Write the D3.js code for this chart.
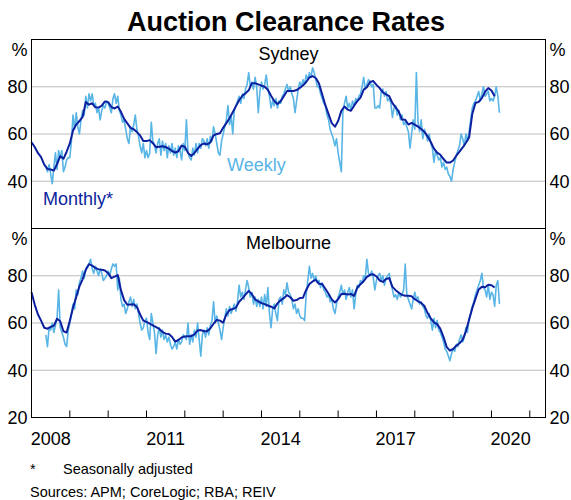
<!DOCTYPE html>
<html>
<head>
<meta charset="utf-8">
<script src="https://cdn.jsdelivr.net/npm/d3@7"></script>
<style>
  body { margin: 0; background: #fff; }
  text { font-family: "Liberation Sans", Arial, sans-serif; }
</style>
</head>
<body>
<svg width="571" height="500"></svg>
<script>
// monthly series start Jan 2008, one value a month
var monthlyStart = 2008;
var weeklyStart = 2008 + 4.5 / 12;

var sydneyMonthly = [
  56.5,54.5,52,50.2,47,45.2,45,44.5,47.3,50.6,49.5,52.5,
  56,61.5,64,65.5,67.2,73.5,72.4,73,71.3,71.2,72,73.8,
  73.5,71.4,70.8,71.6,69.4,66.4,64.5,62.6,62,60.8,59.4,57,
  57,57.4,56.1,54.4,54.6,54.8,54.5,53.8,52.8,52.1,52.7,55.1,
  54.6,52,50.7,52,53.7,55.3,56,55.6,56.4,59.4,60,60.3,
  62.6,64.6,66.7,69.2,71.8,74.3,76.2,77.2,78.5,81.5,81.5,81,
  80.5,80,78.7,76.2,74,72.7,73.9,76,78.2,78.2,78.2,78.6,
  79.5,80.6,82,83.9,84.5,83.7,81.4,76.8,72.2,68.4,64.6,63.1,
  65.5,69.8,71.6,70.3,69.8,72,73.9,75.4,78.8,79.8,82,82.4,
  80.8,79.4,77.6,76.8,76,73.1,71.3,69.4,66.1,66,64,64.7,
  64,63.1,62.1,60.9,59,56.6,53.8,52.1,51.2,49.4,47.9,47.9,
  48.8,50.8,52.5,54.3,56.3,58.5,68.5,73.1,73.6,75.2,77.9,79.4,
  78.4,76
];

var melbourneMonthly = [
  73,67.8,63.7,61,58,57.6,58.4,58.8,61.8,60.7,56.5,56,
  61,66.5,71,75.5,78.5,82.5,84.9,84.3,83.3,82.7,82.5,82.2,
  81.1,79,79.6,80.3,73.9,69.7,67.7,67.8,67.9,66.8,63.6,61,
  60.5,59.7,59,58.3,57.5,56.2,55.5,55.3,54.1,52.1,52.8,53.9,
  54.3,54.4,54.4,55.2,56.8,57,56.5,56.5,57.8,59.7,61.3,61,
  60.2,63.6,65.5,65.9,66.5,69,70.4,72,73.6,72.2,70,69.2,
  68.4,68,67.4,66.9,66.2,68.3,69.6,70.5,71.8,70.9,69.4,69.7,
  70.6,70.7,74,76.5,77.6,78.3,76.6,76.5,74.5,72.4,70,68.7,
  70.1,72.3,72.4,72.1,72.3,71.5,75,76.4,77.7,79.5,80.4,80.6,
  79.7,78,77.4,78.6,79,75.3,73.9,72.8,71.9,71.5,71.5,71.3,
  70.1,69.2,68.5,67.2,64.2,62,60.3,59.5,57.5,54,49.8,48.3,
  49,50.4,51.4,53,56.5,61.4,66.3,70.3,74.2,75.3,75.1,76.2,
  76,75
];

var sydneyWeekly = [
  46,
  44,47, 43,39, 46,52, 45,53, 50,53, 44,46, 49,50,
  50,57, 68,62, 69,63, 60,66, 70,68, 76,71, 77,74, 77,72, 73,69, 71,66, 70,72, 71,74,
  73,71, 69,75, 77,73, 76,70, 68,65, 66,62, 58,56, 63,61, 64,68, 62,59, 55,52, 56,50,
  53,50, 52,65, 57,55, 52,56, 58,51, 57,53, 56,50, 55,52, 56,51, 54,50, 55,53, 49,56,
  53,66, 52,50, 49,54, 51,56, 52,56, 54,58, 57,55, 58,54, 59,57, 63,60, 56,52, 51,57,
  60,63, 66,72, 64,68, 60,70, 72,74, 76,73, 77,75, 79,81, 86,80, 82,79, 84,80, 69,78,
  82,79, 81,85, 79,76, 71,74, 72,75, 71,74, 73,76, 77,79, 81,78, 80,77, 75,69, 74,79,
  82,80, 83,81, 85,83, 86,84, 88,86, 83,80, 80,77, 75,73, 72,68, 66,62, 60,58, 55,58,
  52,48, 44,70, 73,76, 71,73, 70,74, 72,75, 74,76, 77,80, 84,79, 81,83, 82,80, 81,71,
  71,72, 71,78, 79,76, 78,74, 75,73, 67,71, 72,68, 70,66, 68,64, 65,63, 61,54, 60,66,
  62,86, 65,61, 66,58, 62,60, 57,60, 56,54, 48,53, 51,49, 50,46, 48,45, 46,43, 42,40,
  45,48, 51,53, 55,60, 58,55, 60,57, 61,66, 71,73, 74,76, 78,74, 77,80, 76,77, 78,74,
  75,74, 76,80, 76,69
];

var melbourneWeekly = [
  55,
  50,58, 57,60, 56,59, 62,74, 58,56, 54,51, 50,57,
  60,64, 68,66, 74,72, 77,79, 82,79, 83,84, 85,87, 83,81, 84,82, 80,83, 81,78, 79,80,
  82,80, 83,85, 84,85, 74,79, 70,67, 68,64, 66,69, 71,67, 70,66, 68,64, 60,57, 58,61,
  62,56, 53,64, 60,56, 47,55, 58,54, 57,53, 55,52, 54,51, 49,50, 52,49, 53,51, 52,55,
  54,53, 60,51, 55,52, 57,54, 60,53, 46,55, 57,54, 58,55, 59,61, 69,60, 63,60, 57,53,
  58,62, 66,63, 67,64, 66,68, 65,69, 76,71, 73,70, 74,78, 75,71, 73,68, 71,67, 70,67,
  71,66, 72,67, 75,64, 58,66, 68,64, 61,70, 71,68, 74,72, 77,73, 72,70, 66,68, 64,66,
  63,62, 62,61, 72,78, 84,79, 81,78, 80,77, 78,75, 77,74, 73,71, 72,69, 70,66, 64,68,
  71,73, 76,72, 74,70, 73,75, 71,74, 66,72, 76,75, 78,77, 80,79, 87,81, 80,82, 79,74,
  78,80, 81,78, 80,76, 79,80, 81,77, 74,71, 72,70, 73,71, 72,74, 85,72, 70,68, 66,70,
  73,70, 71,68, 69,67, 66,63, 62,64, 61,57, 62,58, 61,57, 56,54, 52,49, 48,46, 44,47,
  49,48, 51,50, 53,55, 52,54, 58,56, 62,64, 67,69, 72,74, 76,78, 81,75, 74,71, 76,70,
  73,72, 67,76, 78,68
];

var panels = [
  { name: 'Sydney', monthly: sydneyMonthly, weekly: sydneyWeekly },
  { name: 'Melbourne', monthly: melbourneMonthly, weekly: melbourneWeekly }
];

var yearLabels = [2008, 2011, 2014, 2017, 2020];
var yearTicks = [2009, 2010, 2011, 2012, 2013, 2014, 2015, 2016, 2017, 2018, 2019, 2020, 2021];
var gridValues = [40, 60, 80];

var monthlyColour = '#0c1f9e';
var weeklyColour = '#58b5e6';

var svg = d3.select('svg');
var plotLeft = 31.5, plotRight = 545.5, plotTop = 39.5, panelH = 189;

var x = d3.scaleLinear().domain([2008, 2021.41]).range([plotLeft, plotRight]);

// titel
svg.append('text')
  .attr('x', 286).attr('y', 31)
  .attr('text-anchor', 'middle')
  .style('font-size', '27px').style('font-weight', 'bold')
  .text('Auction Clearance Rates');

panels.forEach(function(p, k) {
  var y0 = plotTop + k * panelH;
  var y = d3.scaleLinear().domain([20, 100]).range([y0 + panelH, y0]);
  var g = svg.append('g');

  // mrizka
  g.selectAll('line.grid')
    .data(gridValues)
    .enter()
    .append('line')
    .attr('x1', plotLeft).attr('x2', plotRight)
    .attr('y1', function(d) { return y(d); })
    .attr('y2', function(d) { return y(d); })
    .attr('stroke', '#bdbdbd')
    .attr('stroke-width', 1.2);

  // osy vlevo a vpravo
  var labels = k == 0 ? gridValues : [20].concat(gridValues);
  var axisL = d3.axisLeft(y).tickValues(labels).tickSize(0).tickPadding(4);
  var axisR = d3.axisRight(y).tickValues(labels).tickSize(0).tickPadding(4);
  [[axisL, plotLeft], [axisR, plotRight]].forEach(function(a) {
    var ag = g.append('g').attr('transform', 'translate(' + a[1] + ',0)').call(a[0]);
    ag.select('.domain').remove();
    ag.selectAll('text').style('font-size', '18px').style('font-family', '"Liberation Sans", Arial, sans-serif').attr('fill', '#000');
  });
  g.append('text').attr('x', plotLeft - 4).attr('y', y0 + 10).attr('dy', '0.35em')
    .attr('text-anchor', 'end').style('font-size', '18px').text('%');
  g.append('text').attr('x', plotRight + 4).attr('y', y0 + 10).attr('dy', '0.35em')
    .style('font-size', '18px').text('%');

  var line = d3.line()
    .x(function(d) { return x(d[0]); })
    .y(function(d) { return y(d[1]); });

  var weeklyPts = p.weekly.map(function(v, i) { return [weeklyStart + i / 24, v]; });
  var monthlyPts = p.monthly.map(function(v, i) { return [monthlyStart + i / 12, v]; });

  g.append('path').datum(weeklyPts)
    .attr('d', line).attr('fill', 'none')
    .attr('stroke', weeklyColour).attr('stroke-width', 1.6)
    .attr('stroke-linejoin', 'round');
  g.append('path').datum(monthlyPts)
    .attr('d', line).attr('fill', 'none')
    .attr('stroke', monthlyColour).attr('stroke-width', 2)
    .attr('stroke-linejoin', 'round');

  g.append('text')
    .attr('x', (plotLeft + plotRight) / 2).attr('y', y0 + 20.5)
    .attr('text-anchor', 'middle').style('font-size', '18px')
    .text(p.name);

  g.append('rect')
    .attr('x', plotLeft).attr('y', y0)
    .attr('width', plotRight - plotLeft).attr('height', panelH)
    .attr('fill', 'none').attr('stroke', '#000').attr('stroke-width', 1);

  if (k == 0) {
    g.append('text').attr('x', 227).attr('y', 170.5)
      .style('font-size', '18px').attr('fill', weeklyColour).text('Weekly');
    g.append('text').attr('x', 43).attr('y', 205)
      .style('font-size', '18px').attr('fill', monthlyColour).text('Monthly*');
  }
});

// casova osa dole
var plotBottom = plotTop + 2 * panelH;
svg.append('g').selectAll('line')
  .data(yearTicks)
  .enter()
  .append('line')
  .attr('x1', function(d) { return x(d); })
  .attr('x2', function(d) { return x(d); })
  .attr('y1', plotBottom).attr('y2', plotBottom - 7)
  .attr('stroke', '#000');

svg.append('g').selectAll('text')
  .data(yearLabels)
  .enter()
  .append('text')
  .attr('x', function(d) { return x(d + 0.5); })
  .attr('y', 445)
  .attr('text-anchor', 'middle')
  .style('font-size', '18px')
  .text(function(d) { return d; });

// poznamky
svg.append('text').attr('x', 30).attr('y', 474).style('font-size', '14.5px').text('*');
svg.append('text').attr('x', 63).attr('y', 474).style('font-size', '14.5px').text('Seasonally adjusted');
svg.append('text').attr('x', 30).attr('y', 497).style('font-size', '14.5px').text('Sources: APM; CoreLogic; RBA; REIV');
</script>
</body>
</html>
